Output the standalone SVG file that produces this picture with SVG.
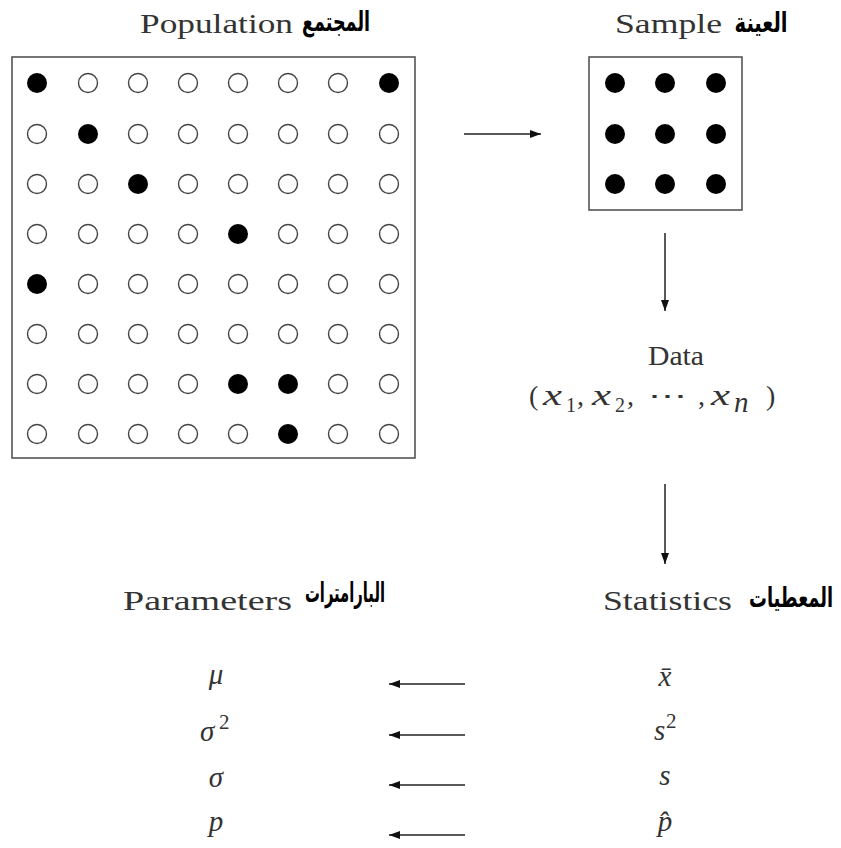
<svg xmlns="http://www.w3.org/2000/svg" width="841" height="848" viewBox="0 0 841 848">
<defs>
<style>
.lat{font-family:"Liberation Serif","DejaVu Serif",serif;font-size:28px;fill:#333}
.ar{font-family:"DejaVu Sans",sans-serif;font-weight:bold;font-size:27px;fill:#000}
.m{font-family:"Liberation Serif","DejaVu Serif",serif;font-style:italic;font-size:29px;fill:#333}
.up{font-family:"Liberation Serif","DejaVu Serif",serif;font-style:normal;fill:#333}
.sb{font-family:"Liberation Serif","DejaVu Serif",serif;font-size:20px;fill:#333}
.e{fill:#fff;stroke:#444;stroke-width:1.4}
.f{fill:#000}
.box{fill:none;stroke:#555;stroke-width:1.6}
.ln{stroke:#222;stroke-width:1.5;fill:none;marker-end:url(#ah)}
</style>
<marker id="ah" markerUnits="userSpaceOnUse" markerWidth="11" markerHeight="8" refX="11" refY="4" orient="auto">
<path d="M0,0 L11,4 L0,8 z" fill="#111"/>
</marker>
</defs>
<rect width="841" height="848" fill="#fff"/>

<g id="population">
<text class="lat" x="140" y="33" textLength="153" lengthAdjust="spacingAndGlyphs">Population</text>
<text class="ar" x="336" y="31" text-anchor="middle" textLength="68" lengthAdjust="spacingAndGlyphs">المجتمع</text>
<rect class="box" x="12" y="57" width="403" height="401"/>
<g id="pop-r0"><circle class="f" cx="37" cy="83" r="10"/><circle class="e" cx="88" cy="83" r="9.5"/><circle class="e" cx="138" cy="83" r="9.5"/><circle class="e" cx="188" cy="83" r="9.5"/><circle class="e" cx="238" cy="83" r="9.5"/><circle class="e" cx="288" cy="83" r="9.5"/><circle class="e" cx="338" cy="83" r="9.5"/><circle class="f" cx="389" cy="83" r="10"/></g>
<g id="pop-r1"><circle class="e" cx="37" cy="134" r="9.5"/><circle class="f" cx="88" cy="134" r="10"/><circle class="e" cx="138" cy="134" r="9.5"/><circle class="e" cx="188" cy="134" r="9.5"/><circle class="e" cx="238" cy="134" r="9.5"/><circle class="e" cx="288" cy="134" r="9.5"/><circle class="e" cx="338" cy="134" r="9.5"/><circle class="e" cx="389" cy="134" r="9.5"/></g>
<g id="pop-r2"><circle class="e" cx="37" cy="184" r="9.5"/><circle class="e" cx="88" cy="184" r="9.5"/><circle class="f" cx="138" cy="184" r="10"/><circle class="e" cx="188" cy="184" r="9.5"/><circle class="e" cx="238" cy="184" r="9.5"/><circle class="e" cx="288" cy="184" r="9.5"/><circle class="e" cx="338" cy="184" r="9.5"/><circle class="e" cx="389" cy="184" r="9.5"/></g>
<g id="pop-r3"><circle class="e" cx="37" cy="234" r="9.5"/><circle class="e" cx="88" cy="234" r="9.5"/><circle class="e" cx="138" cy="234" r="9.5"/><circle class="e" cx="188" cy="234" r="9.5"/><circle class="f" cx="238" cy="234" r="10"/><circle class="e" cx="288" cy="234" r="9.5"/><circle class="e" cx="338" cy="234" r="9.5"/><circle class="e" cx="389" cy="234" r="9.5"/></g>
<g id="pop-r4"><circle class="f" cx="37" cy="284" r="10"/><circle class="e" cx="88" cy="284" r="9.5"/><circle class="e" cx="138" cy="284" r="9.5"/><circle class="e" cx="188" cy="284" r="9.5"/><circle class="e" cx="238" cy="284" r="9.5"/><circle class="e" cx="288" cy="284" r="9.5"/><circle class="e" cx="338" cy="284" r="9.5"/><circle class="e" cx="389" cy="284" r="9.5"/></g>
<g id="pop-r5"><circle class="e" cx="37" cy="334" r="9.5"/><circle class="e" cx="88" cy="334" r="9.5"/><circle class="e" cx="138" cy="334" r="9.5"/><circle class="e" cx="188" cy="334" r="9.5"/><circle class="e" cx="238" cy="334" r="9.5"/><circle class="e" cx="288" cy="334" r="9.5"/><circle class="e" cx="338" cy="334" r="9.5"/><circle class="e" cx="389" cy="334" r="9.5"/></g>
<g id="pop-r6"><circle class="e" cx="37" cy="384" r="9.5"/><circle class="e" cx="88" cy="384" r="9.5"/><circle class="e" cx="138" cy="384" r="9.5"/><circle class="e" cx="188" cy="384" r="9.5"/><circle class="f" cx="238" cy="384" r="10"/><circle class="f" cx="288" cy="384" r="10"/><circle class="e" cx="338" cy="384" r="9.5"/><circle class="e" cx="389" cy="384" r="9.5"/></g>
<g id="pop-r7"><circle class="e" cx="37" cy="434" r="9.5"/><circle class="e" cx="88" cy="434" r="9.5"/><circle class="e" cx="138" cy="434" r="9.5"/><circle class="e" cx="188" cy="434" r="9.5"/><circle class="e" cx="238" cy="434" r="9.5"/><circle class="f" cx="288" cy="434" r="10"/><circle class="e" cx="338" cy="434" r="9.5"/><circle class="e" cx="389" cy="434" r="9.5"/></g>
</g>

<g id="sample">
<text class="lat" x="615" y="33" textLength="107" lengthAdjust="spacingAndGlyphs">Sample</text>
<text class="ar" x="761" y="32" text-anchor="middle" textLength="53" lengthAdjust="spacingAndGlyphs">العينة</text>
<rect class="box" x="589" y="57" width="153" height="153"/>
<circle class="f" cx="615" cy="83" r="10"/><circle class="f" cx="665" cy="83" r="10"/><circle class="f" cx="716" cy="83" r="10"/>
<circle class="f" cx="615" cy="134" r="10"/><circle class="f" cx="665" cy="134" r="10"/><circle class="f" cx="716" cy="134" r="10"/>
<circle class="f" cx="615" cy="184" r="10"/><circle class="f" cx="665" cy="184" r="10"/><circle class="f" cx="716" cy="184" r="10"/>
</g>

<g id="data">
<text class="lat" x="648" y="365" textLength="56" lengthAdjust="spacingAndGlyphs">Data</text>
<text class="lat" x="529" y="405">(</text>
<text class="m" x="543" y="405" textLength="19" lengthAdjust="spacingAndGlyphs">x</text>
<text class="sb" x="566" y="412">1</text>
<text class="lat" x="577" y="405">,</text>
<text class="m" x="592" y="405" textLength="19" lengthAdjust="spacingAndGlyphs">x</text>
<text class="sb" x="615" y="412">2</text>
<text class="lat" x="627" y="405">,</text>
<text class="lat" x="648" y="405" font-family="DejaVu Sans" font-size="24" textLength="39" lengthAdjust="spacingAndGlyphs">⋯</text>
<text class="lat" x="698" y="405">,</text>
<text class="m" x="711" y="405" textLength="19" lengthAdjust="spacingAndGlyphs">x</text>
<text class="m" x="734" y="412" font-size="21">n</text>
<text class="lat" x="766" y="405">)</text>
</g>

<g id="parameters">
<text class="lat" x="123" y="610" textLength="169" lengthAdjust="spacingAndGlyphs">Parameters</text>
<text class="ar" x="345" y="602" text-anchor="middle" textLength="80" lengthAdjust="spacingAndGlyphs">البارامترات</text>
<text class="m" x="216" y="684" text-anchor="middle">μ</text>
<text class="m" x="200" y="741">σ</text><text class="up" x="219" y="729" font-size="21">2</text>
<text class="m" x="216" y="787" text-anchor="middle">σ</text>
<text class="m" x="216" y="831" text-anchor="middle">p</text>
</g>

<g id="statistics">
<text class="lat" x="603" y="610" textLength="129" lengthAdjust="spacingAndGlyphs">Statistics</text>
<text class="ar" x="833" y="607" text-anchor="end" font-size="24" textLength="84" lengthAdjust="spacingAndGlyphs">المعطيات</text>
<text class="m" x="665" y="686" text-anchor="middle">x̄</text>
<text class="m" x="654" y="740">s</text><text class="up" x="666" y="728" font-size="21">2</text>
<text class="m" x="665" y="785" text-anchor="middle">s</text>
<text class="m" x="665" y="831" text-anchor="middle">p̂</text>
</g>

<g id="connectors">
<line class="ln" x1="464" y1="134" x2="541" y2="134"/>
<line class="ln" x1="665" y1="233" x2="665" y2="311"/>
<line class="ln" x1="665" y1="484" x2="665" y2="564"/>
<line class="ln" x1="465" y1="684" x2="389" y2="684"/>
<line class="ln" x1="465" y1="735" x2="389" y2="735"/>
<line class="ln" x1="465" y1="785" x2="389" y2="785"/>
<line class="ln" x1="465" y1="835" x2="389" y2="835"/>
</g>
</svg>
